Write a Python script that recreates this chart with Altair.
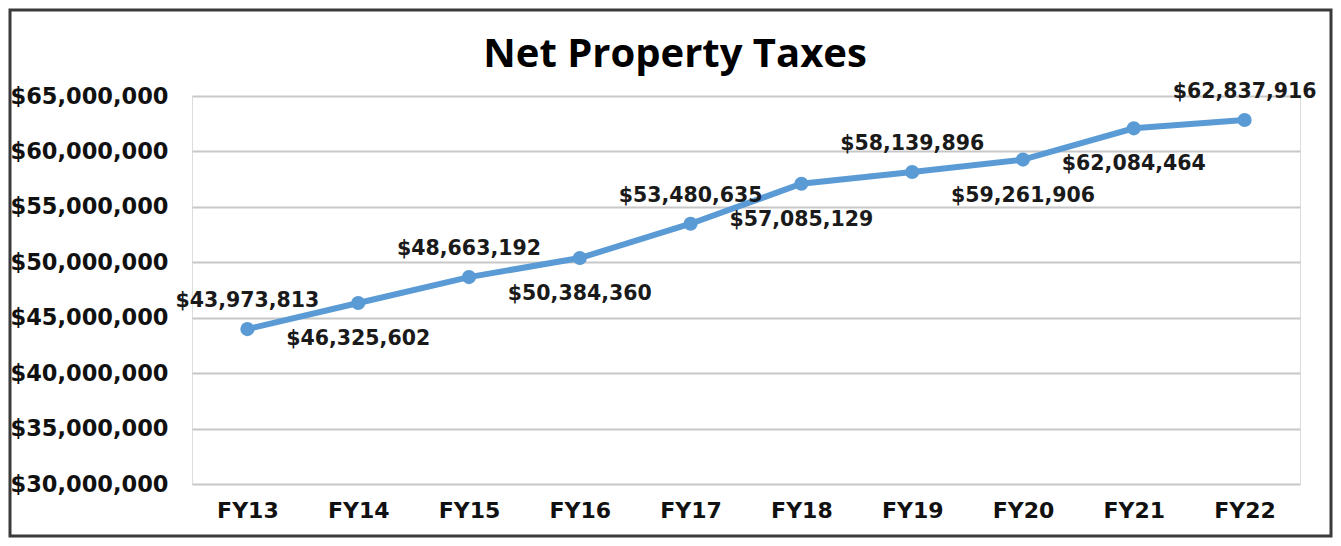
import altair as alt
import pandas as pd

chart_title = ["Net Property Taxes"]
years = ["FY13", "FY14", "FY15", "FY16", "FY17", "FY18", "FY19", "FY20", "FY21", "FY22"]
values = [43973813, 46325602, 48663192, 50384360, 53480635, 57085129, 58139896, 59261906, 62084464, 62837916]
placement = ["above", "below", "above", "below", "above", "below", "above", "below", "below", "above"]
y_ticks = [30000000, 35000000, 40000000, 45000000, 50000000, 55000000, 60000000, 65000000]

df = pd.DataFrame({"year": years, "value": values, "pos": placement})
df["label"] = df["value"].map(lambda v: "${:,.0f}".format(v))

W, H = 1108, 388

x = alt.X("year:N", sort=years, title=None,
          scale=alt.Scale(type="point", padding=0.5),
          axis=alt.Axis(labelAngle=0, labelFont="DejaVu Sans", labelFontWeight="bold",
                        labelFontSize=22, labelColor="#111111", labelPadding=16,
                        ticks=False, domain=False, grid=False))
y = alt.Y("value:Q", title=None,
          scale=alt.Scale(domain=[30000000, 65000000], nice=False, zero=False),
          axis=alt.Axis(values=y_ticks,
                        format="$,.0f", labelFont="DejaVu Sans", labelFontWeight="bold",
                        labelFontSize=22.5, labelColor="#111111", labelPadding=24,
                        ticks=False, domain=False, grid=True, gridColor="#C8C8C8", gridWidth=2))

base = alt.Chart(df)

line = base.mark_line(color="#5B9BD5", strokeWidth=6).encode(x=x, y=y)
pts = base.mark_circle(color="#5B9BD5", size=200, opacity=1).encode(x=x, y=y)

above = base.transform_filter(alt.datum.pos == "above").mark_text(
    font="DejaVu Sans", fontWeight="bold", fontSize=20.5, color="#1a1a1a", dy=-28
).encode(x=x, y=y, text="label:N")
below = base.transform_filter(alt.datum.pos == "below").mark_text(
    font="DejaVu Sans", fontWeight="bold", fontSize=20.5, color="#1a1a1a", dy=36
).encode(x=x, y=y, text="label:N")

border = alt.Chart(pd.DataFrame({"b": [0]})).mark_rect(
    filled=False, stroke="#3a3a3a", strokeWidth=3
).encode(x=alt.value(-182), x2=alt.value(1139), y=alt.value(-86), y2=alt.value(440))

title = alt.Chart(pd.DataFrame({"t": chart_title})).mark_text(
    font="Open Sans", fontWeight="bold", fontSize=40, color="#000000",
    align="center", baseline="middle"
).encode(x=alt.value(483), y=alt.value(-41), text="t:N")

chart = alt.layer(border, line, pts, above, below, title).properties(
    width=W, height=H,
    autosize=alt.AutoSizeParams(type="none"),
    padding={"left": 184, "top": 88, "right": 33, "bottom": 54},
).configure_view(stroke=None).configure(background="white")

chart.save("out.html", embed_options={"renderer": "svg", "actions": False})
